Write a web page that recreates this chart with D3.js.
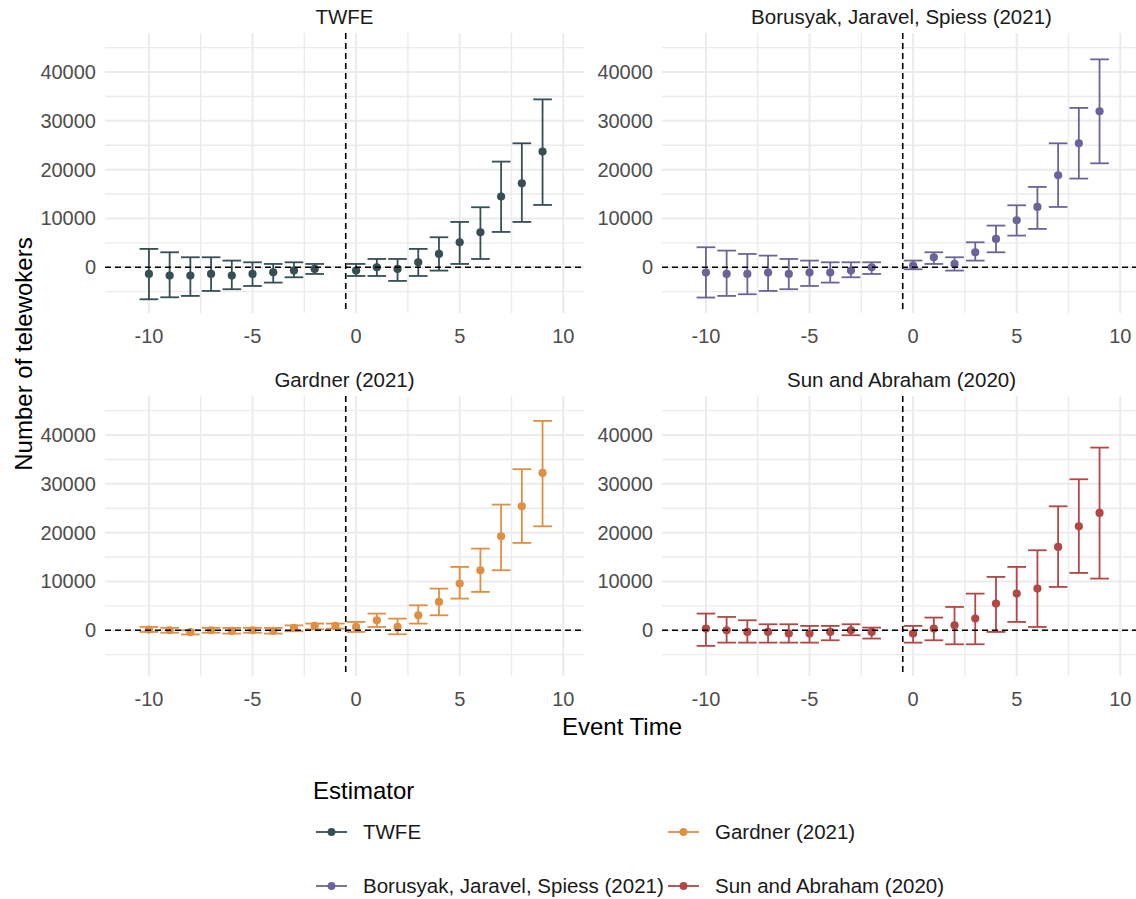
<!DOCTYPE html>
<html>
<head>
<meta charset="utf-8">
<script src="https://cdn.jsdelivr.net/npm/d3@7"></script>
<style>
  body { margin: 0; background: #fff; }
  text { font-family: "Liberation Sans", Arial, sans-serif; }
</style>
</head>
<body>
<div id="chart"></div>
<script>
const W = 1136, H = 899;

// estimators, in legend order
const estimators = ["TWFE", "Borusyak, Jaravel, Spiess (2021)", "Gardner (2021)", "Sun and Abraham (2020)"];
const colors = ["#374E55", "#6A6599", "#DF8F44", "#B24745"];

// TWFE
const twfeTime = [-10, -9, -8, -7, -6, -5, -4, -3, -2, 0, 1, 2, 3, 4, 5, 6, 7, 8, 9];
const twfeEst = [-1370, -1700, -1700, -1370, -1700, -1370, -1020, -680, -340, -680, 0, -340, 1020, 2730, 5120, 7170, 14500, 17200, 23700];
const twfeLo = [-6560, -6150, -5870, -4850, -4500, -3830, -3140, -2050, -1370, -1780, -1780, -2800, -1780, -680, 680, 1700, 7240, 9290, 12770];
const twfeHi = [3760, 3070, 2050, 2050, 1370, 1020, 680, 1020, 680, 680, 1700, 1700, 3760, 6150, 9290, 12300, 21650, 25400, 34400];

// Borusyak, Jaravel, Spiess
const bjsTime = [-10, -9, -8, -7, -6, -5, -4, -3, -2, 0, 1, 2, 3, 4, 5, 6, 7, 8, 9];
const bjsEst = [-1090, -1370, -1370, -1090, -1370, -1090, -1090, -680, 0, 340, 2050, 680, 3070, 5800, 9630, 12360, 18850, 25400, 31970];
const bjsLo = [-6200, -5870, -5530, -4850, -4500, -3830, -3140, -2050, -1370, -410, 680, -680, 1370, 3070, 6490, 7860, 12360, 18170, 21300];
const bjsHi = [4100, 3420, 2730, 2390, 1700, 1370, 1020, 1020, 1020, 1370, 3070, 2050, 5120, 8540, 12700, 16460, 25400, 32650, 42600];

// Gardner
const gardTime = [-10, -9, -8, -7, -6, -5, -4, -3, -2, -1, 0, 1, 2, 3, 4, 5, 6, 7, 8, 9];
const gardEst = [150, 0, -400, 0, -140, 0, -140, 480, 890, 890, 680, 2050, 680, 3070, 5800, 9560, 12300, 19260, 25400, 32240];
const gardLo = [-340, -500, -850, -500, -680, -500, -680, -200, 200, 340, -340, 680, -820, 1370, 3070, 6490, 7860, 12300, 17900, 21300];
const gardHi = [680, 500, 0, 500, 480, 500, 480, 1000, 1370, 1370, 1710, 3420, 2390, 5120, 8540, 12980, 16730, 25750, 33000, 42900];

// Sun and Abraham
const saTime = [-10, -9, -8, -7, -6, -5, -4, -3, -2, 0, 1, 2, 3, 4, 5, 6, 7, 8, 9];
const saEst = [340, 0, -340, -340, -680, -680, -340, 0, -340, -680, 340, 1020, 2390, 5460, 7510, 8540, 17080, 21300, 24040];
const saLo = [-3200, -2530, -2530, -2530, -2530, -2530, -2050, -1020, -1700, -2530, -2050, -2870, -2870, -340, 1710, 680, 8880, 11750, 10590];
const saHi = [3420, 2730, 2050, 1230, 1230, 890, 890, 1230, 550, 890, 2600, 4780, 7510, 10930, 12980, 16390, 25400, 30940, 37430];

const xTicks = [-10, -5, 0, 5, 10];
const xMinor = [-7.5, -2.5, 2.5, 7.5];
const yTicks = [0, 10000, 20000, 30000, 40000];
const yMinor = [-5000, 5000, 15000, 25000, 35000, 45000];
const refTime = -0.5;

const build = (t, e, lo, hi) => t.map((d, i) => ({ t: d, est: e[i], lo: lo[i], hi: hi[i] }));
const panels = [
  { name: estimators[0], color: colors[0], data: build(twfeTime, twfeEst, twfeLo, twfeHi), col: 0, row: 0 },
  { name: estimators[1], color: colors[1], data: build(bjsTime, bjsEst, bjsLo, bjsHi), col: 1, row: 0 },
  { name: estimators[2], color: colors[2], data: build(gardTime, gardEst, gardLo, gardHi), col: 0, row: 1 },
  { name: estimators[3], color: colors[3], data: build(saTime, saEst, saLo, saHi), col: 1, row: 1 }
];

// panel geometry
const panelW = 479, panelH = 280;
const colX = [105, 662];
const rowY = [33, 396];

const x = d3.scaleLinear().domain([-12.12, 11.0]).range([0, panelW]);
const y = d3.scaleLinear().domain([-9370, 48000]).range([panelH, 0]);

const grid = "#EBEBEB";
const capHalf = 0.45;

const svg = d3.select("#chart").append("svg")
  .attr("width", W)
  .attr("height", H);

panels.forEach(p => {
  const g = svg.append("g")
    .attr("transform", `translate(${colX[p.col]},${rowY[p.row]})`);

  // grid
  g.selectAll(".hminor").data(yMinor).enter().append("line")
    .attr("x1", 0).attr("x2", panelW)
    .attr("y1", d => y(d)).attr("y2", d => y(d))
    .attr("stroke", grid).attr("stroke-width", 1.4);
  g.selectAll(".vminor").data(xMinor).enter().append("line")
    .attr("y1", 0).attr("y2", panelH)
    .attr("x1", d => x(d)).attr("x2", d => x(d))
    .attr("stroke", grid).attr("stroke-width", 1.4);
  g.selectAll(".hmajor").data(yTicks).enter().append("line")
    .attr("x1", 0).attr("x2", panelW)
    .attr("y1", d => y(d)).attr("y2", d => y(d))
    .attr("stroke", grid).attr("stroke-width", 2);
  g.selectAll(".vmajor").data(xTicks).enter().append("line")
    .attr("y1", 0).attr("y2", panelH)
    .attr("x1", d => x(d)).attr("x2", d => x(d))
    .attr("stroke", grid).attr("stroke-width", 2);

  // tick labels
  g.selectAll(".xlab").data(xTicks).enter().append("text")
    .attr("x", d => x(d)).attr("y", panelH + 30)
    .attr("text-anchor", "middle")
    .attr("fill", "#4D4D4D")
    .style("font-size", "20px")
    .text(d => d);
  g.selectAll(".ylab").data(yTicks).enter().append("text")
    .attr("x", -9).attr("y", d => y(d) + 7)
    .attr("text-anchor", "end")
    .attr("fill", "#4D4D4D")
    .style("font-size", "20px")
    .text(d => d3.format("d")(d));

  // strip title
  g.append("text")
    .attr("x", panelW / 2).attr("y", -9)
    .attr("text-anchor", "middle")
    .attr("fill", "#1A1A1A")
    .style("font-size", "20.5px")
    .text(p.name);

  // error bars
  const eb = g.selectAll(".eb").data(p.data).enter().append("g")
    .attr("stroke", p.color).attr("stroke-width", 1.8);
  eb.append("line")
    .attr("x1", d => x(d.t)).attr("x2", d => x(d.t))
    .attr("y1", d => y(d.lo)).attr("y2", d => y(d.hi));
  eb.append("line")
    .attr("x1", d => x(d.t - capHalf)).attr("x2", d => x(d.t + capHalf))
    .attr("y1", d => y(d.lo)).attr("y2", d => y(d.lo));
  eb.append("line")
    .attr("x1", d => x(d.t - capHalf)).attr("x2", d => x(d.t + capHalf))
    .attr("y1", d => y(d.hi)).attr("y2", d => y(d.hi));

  // points
  g.selectAll(".pt").data(p.data).enter().append("circle")
    .attr("cx", d => x(d.t)).attr("cy", d => y(d.est))
    .attr("r", 4.1)
    .attr("fill", p.color);

  // reference lines
  g.append("line")
    .attr("x1", 0).attr("x2", panelW)
    .attr("y1", y(0)).attr("y2", y(0))
    .attr("stroke", "#000").attr("stroke-width", 1.6)
    .attr("stroke-dasharray", "6,4");
  g.append("line")
    .attr("x1", x(refTime)).attr("x2", x(refTime))
    .attr("y1", 0).attr("y2", panelH)
    .attr("stroke", "#000").attr("stroke-width", 1.6)
    .attr("stroke-dasharray", "6,4");
});

// axis titles
svg.append("text")
  .attr("x", 622).attr("y", 735)
  .attr("text-anchor", "middle")
  .style("font-size", "24px")
  .text("Event Time");

svg.append("text")
  .attr("transform", "translate(32,354) rotate(-90)")
  .attr("text-anchor", "middle")
  .style("font-size", "24px")
  .text("Number of telewokers");

// legend
const legend = svg.append("g");
legend.append("text")
  .attr("x", 313).attr("y", 799)
  .style("font-size", "24px")
  .text("Estimator");

const legendCols = [316, 668];
const legendRows = [832, 886];
const legendItems = estimators.map((e, i) => ({ name: e, color: colors[i], col: Math.floor(i / 2), row: i % 2 }));

const item = legend.selectAll(".item").data(legendItems).enter().append("g")
  .attr("transform", d => `translate(${legendCols[d.col]},${legendRows[d.row]})`);
item.append("line")
  .attr("x1", 0).attr("x2", 31)
  .attr("stroke", d => d.color).attr("stroke-width", 1.8);
item.append("circle")
  .attr("cx", 15.5).attr("r", 3.9)
  .attr("fill", d => d.color);
item.append("text")
  .attr("x", 47).attr("y", 7)
  .attr("fill", "#1A1A1A")
  .style("font-size", "20.5px")
  .text(d => d.name);
</script>
</body>
</html>
